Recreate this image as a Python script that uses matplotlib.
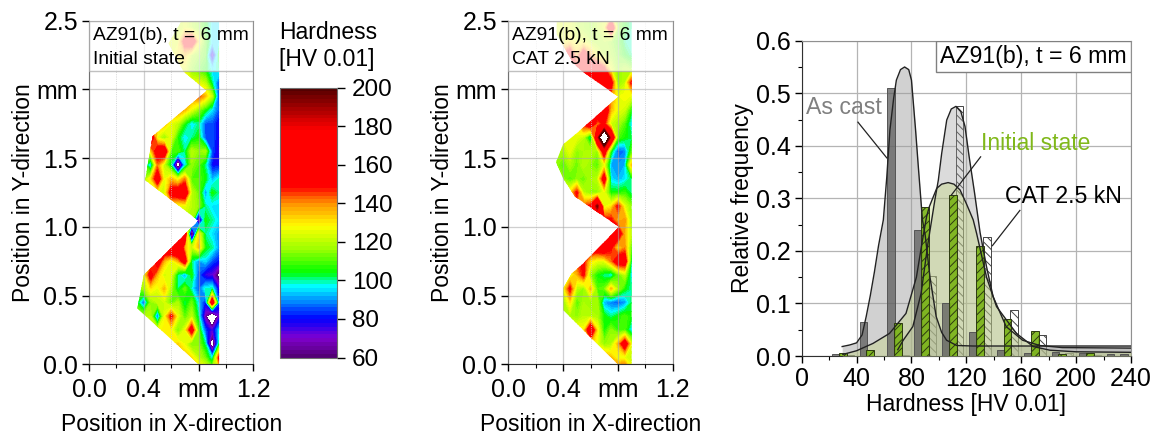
import numpy as np
import matplotlib
matplotlib.use('Agg')
import matplotlib.pyplot as plt
from matplotlib.colors import LinearSegmentedColormap
from matplotlib.patches import Polygon, Rectangle
from matplotlib.ticker import FixedLocator, MultipleLocator

plt.rcParams['font.family'] = ['Liberation Sans', 'DejaVu Sans']
plt.rcParams['hatch.linewidth'] = 0.7

W, H = 1153, 438

# hardness maps: columns are map_x, rows are map_y (bottom to top)
map_x = [0.35, 0.40, 0.45, 0.50, 0.55, 0.60, 0.65, 0.70, 0.75, 0.80, 0.85, 0.90, 0.95]
map_y = [-0.05, 0.05, 0.15, 0.25, 0.35, 0.45, 0.55, 0.65, 0.75, 0.85, 0.95, 1.05, 1.15,
         1.25, 1.35, 1.45, 1.55, 1.65, 1.75, 1.85, 1.95, 2.05, 2.15, 2.25, 2.35, 2.45, 2.55]

hv_initial = [
    [135, 135, 135, 135, 135, 135, 135, 135, 135, 135, 130, 120, 125],
    [135, 135, 135, 135, 135, 135, 135, 135, 130, 120, 112, 95, 150],
    [130, 130, 130, 130, 130, 130, 132, 125, 112, 115, 100, 45, 100],
    [125, 125, 125, 125, 130, 128, 112, 125, 158, 110, 85, 72, 95],
    [120, 120, 120, 85, 125, 150, 125, 110, 120, 100, 65, 30, 70],
    [105, 85, 115, 120, 122, 110, 118, 100, 112, 95, 80, 165, 85],
    [110, 118, 130, 125, 135, 118, 100, 112, 98, 85, 98, 100, 75],
    [120, 125, 155, 135, 122, 125, 100, 90, 105, 85, 75, 72, 55],
    [125, 125, 135, 160, 135, 125, 135, 158, 100, 90, 95, 85, 80],
    [140, 140, 140, 145, 165, 170, 175, 135, 120, 135, 105, 100, 90],
    [140, 140, 140, 140, 140, 145, 160, 170, 45, 130, 100, 95, 90],
    [120, 120, 120, 120, 120, 120, 120, 120, 120, 60, 105, 100, 95],
    [130, 130, 130, 130, 130, 128, 125, 125, 120, 115, 100, 95, 95],
    [125, 125, 125, 125, 122, 155, 160, 165, 120, 112, 90, 105, 100],
    [115, 115, 130, 160, 125, 135, 125, 140, 110, 110, 105, 92, 98],
    [110, 110, 90, 140, 120, 100, 42, 95, 115, 110, 100, 80, 80],
    [125, 125, 130, 160, 165, 110, 110, 100, 120, 115, 118, 85, 75],
    [150, 150, 165, 125, 115, 125, 105, 95, 100, 105, 85, 85, 78],
    [135, 135, 135, 135, 135, 125, 120, 105, 95, 100, 85, 85, 78],
    [140, 140, 140, 140, 140, 140, 140, 135, 125, 115, 105, 95, 85],
    [140, 140, 140, 140, 140, 140, 140, 140, 140, 145, 135, 120, 82],
    [130, 130, 130, 130, 130, 130, 130, 130, 125, 125, 120, 100, 85],
    [125, 125, 125, 125, 125, 125, 125, 125, 115, 110, 105, 95, 100],
    [125, 125, 125, 125, 125, 125, 130, 135, 120, 115, 110, 70, 105],
    [125, 125, 125, 125, 125, 125, 125, 155, 165, 130, 110, 95, 95],
    [120, 120, 120, 120, 120, 120, 120, 125, 120, 115, 105, 95, 95],
    [120, 120, 120, 120, 120, 120, 120, 125, 120, 115, 105, 95, 95],
]

hv_cat = [
    [135, 135, 135, 135, 135, 135, 135, 135, 140, 150, 155, 130, 130],
    [135, 135, 135, 135, 135, 135, 135, 140, 135, 125, 125, 120, 120],
    [135, 135, 135, 135, 135, 135, 125, 115, 118, 135, 160, 125, 125],
    [130, 130, 130, 130, 128, 165, 130, 105, 115, 108, 110, 95, 95],
    [120, 120, 118, 115, 120, 120, 118, 105, 100, 105, 110, 105, 105],
    [115, 115, 130, 110, 118, 115, 118, 92, 88, 85, 90, 102, 102],
    [125, 125, 150, 120, 115, 135, 110, 112, 135, 118, 105, 100, 100],
    [120, 120, 125, 135, 150, 115, 105, 100, 95, 110, 120, 95, 95],
    [140, 140, 140, 145, 150, 130, 125, 125, 140, 160, 160, 100, 100],
    [150, 150, 150, 150, 155, 158, 160, 165, 150, 130, 140, 110, 110],
    [150, 150, 150, 150, 150, 150, 150, 150, 170, 160, 135, 120, 120],
    [150, 150, 150, 150, 150, 150, 150, 150, 150, 135, 140, 115, 115],
    [140, 140, 140, 140, 145, 150, 195, 125, 130, 150, 125, 115, 115],
    [130, 130, 130, 150, 120, 115, 115, 125, 105, 105, 108, 100, 100],
    [115, 115, 110, 115, 112, 118, 120, 158, 95, 92, 95, 102, 102],
    [115, 110, 118, 112, 120, 115, 110, 125, 92, 90, 92, 135, 135],
    [118, 118, 125, 115, 118, 120, 115, 160, 105, 85, 88, 110, 110],
    [125, 125, 125, 125, 120, 95, 175, 250, 175, 110, 105, 102, 102],
    [130, 130, 130, 130, 150, 165, 140, 150, 122, 118, 110, 95, 95],
    [140, 140, 140, 140, 150, 160, 165, 165, 135, 125, 122, 105, 105],
    [145, 145, 145, 145, 145, 145, 150, 150, 140, 125, 128, 125, 125],
    [150, 150, 150, 150, 150, 150, 150, 150, 155, 115, 120, 150, 150],
    [150, 150, 150, 150, 155, 160, 165, 150, 125, 115, 120, 115, 115],
    [150, 150, 160, 135, 160, 140, 125, 120, 118, 112, 105, 100, 100],
    [120, 125, 130, 125, 125, 120, 118, 120, 115, 110, 100, 100, 100],
    [125, 125, 125, 120, 118, 115, 120, 125, 170, 115, 105, 100, 100],
    [125, 125, 125, 120, 118, 115, 120, 125, 125, 115, 105, 100, 100],
]

# specimen outlines
outline_initial_x = [0.80, 0.353, 0.40, 0.80, 0.41, 0.465, 0.86, 0.69, 0.58, 0.677, 0.95, 0.95]
outline_initial_y = [0.0, 0.407, 0.65, 1.045, 1.34, 1.66, 1.99, 2.13, 2.335, 2.5, 2.5, 0.0]
outline_cat_x = [0.80, 0.40, 0.40, 0.463, 0.548, 0.808, 0.487, 0.40, 0.348, 0.40, 0.51,
                 0.803, 0.54, 0.475, 0.353, 0.353, 0.90, 0.90]
outline_cat_y = [0.0, 0.395, 0.553, 0.66, 0.735, 1.0, 1.22, 1.353, 1.47, 1.60, 1.69,
                 1.947, 2.13, 2.19, 2.40, 2.5, 2.5, 0.0]

# colour scale stops
scale_hv = [60, 70, 80, 88, 97, 104, 115, 128, 140, 149, 178, 190, 200]
scale_colors = ['#500070', '#8000d0', '#0000ff', '#0078ff', '#00ffff', '#00ff00', '#90ff00',
                '#ffff00', '#ff9000', '#ff0000', '#ff0000', '#a00000', '#500000']
scale_ticks = [60, 80, 100, 120, 140, 160, 180, 200]

# histogram bars
cast_x = [25, 45, 65, 85, 105, 125, 145, 165, 185, 205, 225, 235]
cast_f = [0.004, 0.065, 0.51, 0.24, 0.10, 0.045, 0.012, 0.005, 0.008, 0.006, 0.003, 0.003]
init_x = [30, 50, 70, 90, 110, 130, 150, 170, 190, 210]
init_f = [0.005, 0.012, 0.062, 0.284, 0.306, 0.21, 0.07, 0.047, 0.004, 0.005]
cat_x = [35, 75, 95, 115, 135, 155, 175, 195, 215]
cat_f = [0.002, 0.002, 0.153, 0.475, 0.226, 0.087, 0.04, 0.006, 0.002]

# fitted curves
cast_curve_x = [29.5, 35, 40, 44, 47, 50, 53, 56, 59.5, 62, 64.3, 67, 69, 72, 75, 78, 80, 83, 85, 88, 90,
                93.5, 98, 102, 105.6, 110, 113, 125, 150, 240]
cast_curve_y = [0.018, 0.021, 0.025, 0.04, 0.075, 0.115, 0.16, 0.21, 0.259, 0.34, 0.43, 0.49, 0.525,
                0.545, 0.55, 0.545, 0.525, 0.43, 0.36, 0.259, 0.23, 0.15, 0.075, 0.045, 0.03, 0.024,
                0.02, 0.019, 0.019, 0.019]
cat_curve_x = [70, 74, 81, 87, 92, 97, 99.6, 102, 105.7, 109, 112.4, 116, 119, 122, 126, 130, 134.7,
               139.5, 149, 161, 173.5, 190, 240]
cat_curve_y = [0.012, 0.03, 0.056, 0.119, 0.214, 0.296, 0.335, 0.385, 0.449, 0.47, 0.475, 0.465, 0.437,
               0.38, 0.31, 0.235, 0.17, 0.113, 0.056, 0.03, 0.02, 0.016, 0.015]
init_curve_x = [30, 40, 52, 64, 76, 83.6, 88, 91, 93, 98.4, 102, 106.7, 111, 115.4, 120, 125, 127.5,
                134.7, 142, 156.5, 168.7, 181, 200, 240]
init_curve_y = [0.003, 0.01, 0.024, 0.043, 0.081, 0.15, 0.22, 0.265, 0.284, 0.319, 0.327, 0.33, 0.327,
                0.316, 0.29, 0.259, 0.233, 0.15, 0.094, 0.043, 0.018, 0.011, 0.008, 0.007]

map_cmap = LinearSegmentedColormap.from_list(
    'hardness', [((v - 60) / 140, c) for v, c in zip(scale_hv, scale_colors)], N=256)


def px_axes(left, top, right, bottom):
    return fig.add_axes([left / W, 1 - bottom / H, (right - left) / W, (bottom - top) / H])


def draw_map(ax, values, out_x, out_y, label):
    ax.set_xlim(0, 1.2)
    ax.set_ylim(0, 2.5)
    cf = ax.contourf(map_x, map_y, np.array(values, dtype=float),
                     levels=np.arange(60, 201, 2), cmap=map_cmap, vmin=60, vmax=200, zorder=1)
    shape = Polygon(np.column_stack([out_x, out_y]), closed=True, transform=ax.transData,
                    fc='none', ec='none')
    ax.add_patch(shape)
    cf.set_clip_path(shape)

    ax.xaxis.set_major_locator(FixedLocator([0, 0.4, 0.8, 1.2]))
    ax.xaxis.set_minor_locator(FixedLocator([0.2, 0.6, 1.0]))
    ax.set_xticklabels(['0.0', '0.4', 'mm', '1.2'])
    ax.yaxis.set_major_locator(FixedLocator([0, 0.5, 1.0, 1.5, 2.0, 2.5]))
    ax.set_yticklabels(['0.0', '0.5', '1.0', '1.5', 'mm', '2.5'])
    ax.grid(True, which='major', color='#a8a8a8', lw=0.9, alpha=0.55, zorder=2)
    ax.grid(True, which='minor', axis='x', color='#c8c8c8', lw=0.6, ls=':', zorder=2)
    ax.set_axisbelow(False)
    ax.tick_params(which='major', length=5, width=1, labelsize=18, pad=3, direction='out')
    ax.tick_params(which='minor', length=3, width=0.8)
    ax.tick_params(axis='x', pad=5)

    ax.spines['left'].set_color('#303030')
    ax.spines['bottom'].set_color('#303030')
    ax.spines['top'].set_color('#909090')
    ax.spines['right'].set_color('#909090')

    ax.add_patch(Rectangle((0, 2.135), 1.2, 0.365, fc='white', ec='#a8a8a8', lw=1, alpha=0.72, zorder=3))
    ax.text(0.03, 2.39, 'AZ91(b), t = 6 mm', fontsize=13.9, va='center', zorder=4)
    ax.text(0.03, 2.22, label, fontsize=13.9, va='center', zorder=4)
    ax.set_xlabel('Position in X-direction', fontsize=16.5, labelpad=8)
    ax.set_ylabel('Position in Y-direction', fontsize=16.5, labelpad=1)
    return cf


fig = plt.figure(figsize=(W / 100, H / 100), dpi=100)

ax1 = px_axes(89, 20.7, 253.3, 364.3)
cf = draw_map(ax1, hv_initial, outline_initial_x, outline_initial_y, 'Initial state')
ax2 = px_axes(508.3, 20.7, 672.7, 364.3)
draw_map(ax2, hv_cat, outline_cat_x, outline_cat_y, 'CAT 2.5 kN')

cax = px_axes(279.5, 87.5, 336.7, 357.5)
cbar = fig.colorbar(cf, cax=cax)
cbar.set_ticks(scale_ticks)
cbar.ax.tick_params(labelsize=17.5, length=6, width=1, pad=5)
cbar.ax.minorticks_off()
cbar.outline.set_edgecolor('#707070')
fig.text(279 / W, 1 - 46 / H, 'Hardness\n[HV 0.01]', fontsize=16.5, va='center', ha='left', linespacing=1.2)

# histogram
ax3 = px_axes(801.7, 40.7, 1131, 356)
ax3.set_xlim(0, 240)
ax3.set_ylim(0, 0.6)
bar_w = 5.7
ax3.bar(cat_x, cat_f, width=bar_w, fc='white', ec='#444444', lw=0.7, hatch='\\\\\\\\', zorder=2)

ax3.fill_between(cast_curve_x, cast_curve_y, color='#9a9a9a', alpha=0.45, lw=0, zorder=3)
ax3.fill_between(cat_curve_x, cat_curve_y, color='#9a9a9a', alpha=0.35, lw=0, zorder=3)
ax3.fill_between(init_curve_x, init_curve_y, color='#c2d67c', alpha=0.38, lw=0, zorder=3)

ax3.bar(cast_x, cast_f, width=bar_w, fc=(0.35, 0.35, 0.35, 0.72), ec='#555555', lw=0.7, zorder=3.5)
ax3.bar(init_x, init_f, width=bar_w, fc=(0.47, 0.70, 0.08, 0.9), ec='#2c3a10', lw=0.7, hatch='////', zorder=3.5)

ax3.plot(cast_curve_x, cast_curve_y, color='#222222', lw=1, zorder=4)
ax3.plot(cat_curve_x, cat_curve_y, color='#222222', lw=1, zorder=4)
ax3.plot(init_curve_x, init_curve_y, color='#222222', lw=1, zorder=4)

ax3.xaxis.set_major_locator(MultipleLocator(40))
ax3.xaxis.set_minor_locator(MultipleLocator(20))
ax3.yaxis.set_major_locator(MultipleLocator(0.1))
ax3.yaxis.set_minor_locator(MultipleLocator(0.05))
ax3.grid(True, which='major', color='#b4b4b4', lw=0.9, zorder=1)
ax3.set_axisbelow(True)
ax3.tick_params(which='major', length=5, width=1, labelsize=18, pad=3)
ax3.tick_params(which='minor', length=3, width=0.8)
ax3.spines['left'].set_color('#303030')
ax3.spines['bottom'].set_color('#303030')
ax3.spines['top'].set_color('#909090')
ax3.spines['right'].set_color('#909090')
ax3.set_xlabel('Hardness [HV 0.01]', fontsize=16.5, labelpad=1)
ax3.set_ylabel('Relative frequency', fontsize=16.5, labelpad=1)

ax3.add_patch(Rectangle((98, 0.54), 142, 0.06, fc='white', ec='#808080', lw=1, zorder=6))
ax3.text(169, 0.57, 'AZ91(b), t = 6 mm', fontsize=16.7, ha='center', va='center', zorder=7)
ax3.text(3, 0.472, 'As cast', fontsize=16.7, color='#808080', ha='left', va='center', zorder=7)
ax3.text(131, 0.404, 'Initial state', fontsize=16.5, color='#80b81a', ha='left', va='center', zorder=7)
ax3.text(148, 0.303, 'CAT 2.5 kN', fontsize=16.7, color='black', ha='left', va='center', zorder=7)
ax3.plot([41, 62], [0.445, 0.377], color='#222222', lw=0.9, zorder=5)
ax3.plot([130.4, 109], [0.379, 0.306], color='#222222', lw=0.9, zorder=5)
ax3.plot([159, 139], [0.277, 0.21], color='#222222', lw=0.9, zorder=5)

fig.savefig('out.png', dpi=100)
